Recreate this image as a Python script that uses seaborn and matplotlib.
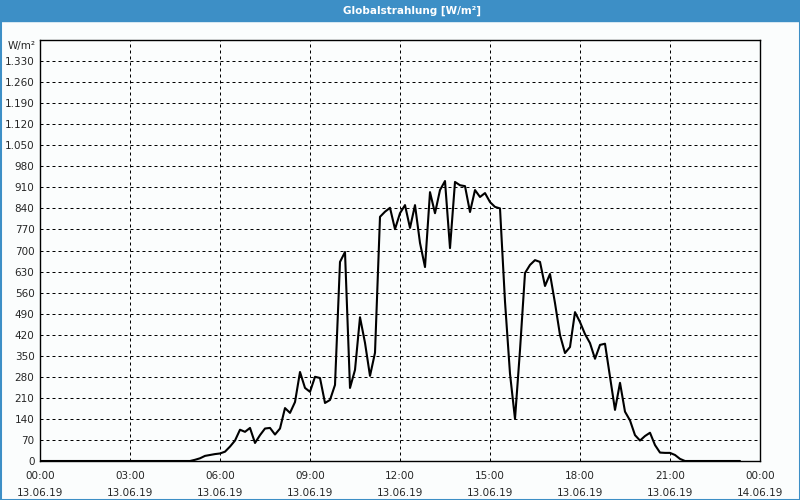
import matplotlib
matplotlib.use("Agg")
import matplotlib.pyplot as plt
import matplotlib.dates as mdates
from matplotlib.patches import Rectangle
from matplotlib.ticker import FuncFormatter, MultipleLocator
import seaborn as sns
import pandas as pd

# ---- data (10-minute values, W/m², 13.06.19 00:00 .. 23:20) ----
night_morning = [0, 0, 0, 0, 0, 0,   0, 0, 0, 0, 0, 0,
                 0, 0, 0, 0, 0, 0,   0, 0, 0, 0, 0, 0,
                 0, 0, 0, 0, 0, 0]
day_values = [0, 4, 9, 17, 20, 23,            # 05:00
              25, 31, 48, 68, 104, 97,        # 06:00
              110, 60, 86, 108, 110, 88,      # 07:00
              108, 176, 160, 196, 296, 243,   # 08:00
              230, 280, 276, 193, 203, 253,   # 09:00
              662, 695, 243, 303, 478, 393,   # 10:00
              283, 360, 812, 829, 842, 771,   # 11:00
              824, 851, 775, 851, 725, 645,   # 12:00
              894, 824, 901, 931, 708, 928,   # 13:00
              917, 914, 828, 901, 878, 891,   # 14:00
              861, 845, 840, 530, 290, 140,   # 15:00
              369, 625, 652, 668, 662, 582,   # 16:00
              622, 525, 419, 359, 379, 495,   # 17:00
              462, 422, 392, 340, 386, 390,   # 18:00
              279, 170, 260, 164, 135, 86,    # 19:00
              68, 83, 94, 53, 28, 27,         # 20:00
              27, 20, 7]                      # 21:00
evening = [0, 0, 0, 0, 0, 0, 0, 0, 0, 0, 0, 0]
values = night_morning + day_values + evening

start = "2019-06-13 00:00"
end = "2019-06-14 00:00"
times = pd.date_range(start, periods=len(values), freq="10min")
df = pd.DataFrame({"time": times, "value": values})

title = "Globalstrahlung [W/m²]"
unit = "W/m²"
y_max = 1400
y_step = 70

# ---- figure ----
sns.set_style("white")
plt.rcParams["font.family"] = ["DejaVu Sans"]
W, H = 800, 500
bg = "#fbfdfd"
blue = "#3d8fc6"
fig = plt.figure(figsize=(8, 5), dpi=100, facecolor=bg)
ax = fig.add_axes([40 / W, (H - 461) / H, 720 / W, 421 / H])
ax.set_facecolor(bg)

sns.lineplot(data=df, x="time", y="value", ax=ax, color="black", linewidth=1.5)

ax.set_xlim(pd.Timestamp(start), pd.Timestamp(end))
ax.set_ylim(0, y_max)
ax.yaxis.set_major_locator(MultipleLocator(y_step))
ax.yaxis.set_major_formatter(FuncFormatter(
    lambda v, p: "" if v >= y_max else f"{v:,.0f}".replace(",", ".")))

ax.xaxis.set_major_locator(mdates.HourLocator(byhour=range(0, 24, 3)))
ax.xaxis.set_minor_locator(mdates.HourLocator())
ax.xaxis.set_major_formatter(mdates.DateFormatter("%H:%M\n%d.%m.%y"))

ax.set_xlabel("")
ax.set_ylabel("")
for s in ax.spines.values():
    s.set_color("black")
    s.set_linewidth(1.0)

ax.grid(True, which="major", color="black", linewidth=0.72,
        linestyle=(0, (3, 3)))
ax.tick_params(axis="x", which="both", direction="out", length=3,
               width=0.8, color="black", labelsize=7.5, pad=4)
ax.tick_params(axis="y", which="both", length=0, labelsize=7.5, pad=4)
for lbl in ax.get_xticklabels():
    lbl.set_linespacing(1.9)

# unit label top-left
fig.text(36 / W, 1 - 46 / H, unit, ha="right", va="center", fontsize=7.5)

# title bar
fig.patches.append(Rectangle((0, 1 - 21 / H), 1, 21 / H,
                             transform=fig.transFigure, color=blue, zorder=0))
fig.text(412 / W, 1 - 10.5 / H, title, ha="center", va="center",
         color="white", fontsize=7.5, fontweight="bold")
# border
fig.patches.append(Rectangle((0, 0), 1, 1, transform=fig.transFigure,
                             fill=False, edgecolor=blue, linewidth=2.2))

fig.savefig("out.png", dpi=100, facecolor=bg)
